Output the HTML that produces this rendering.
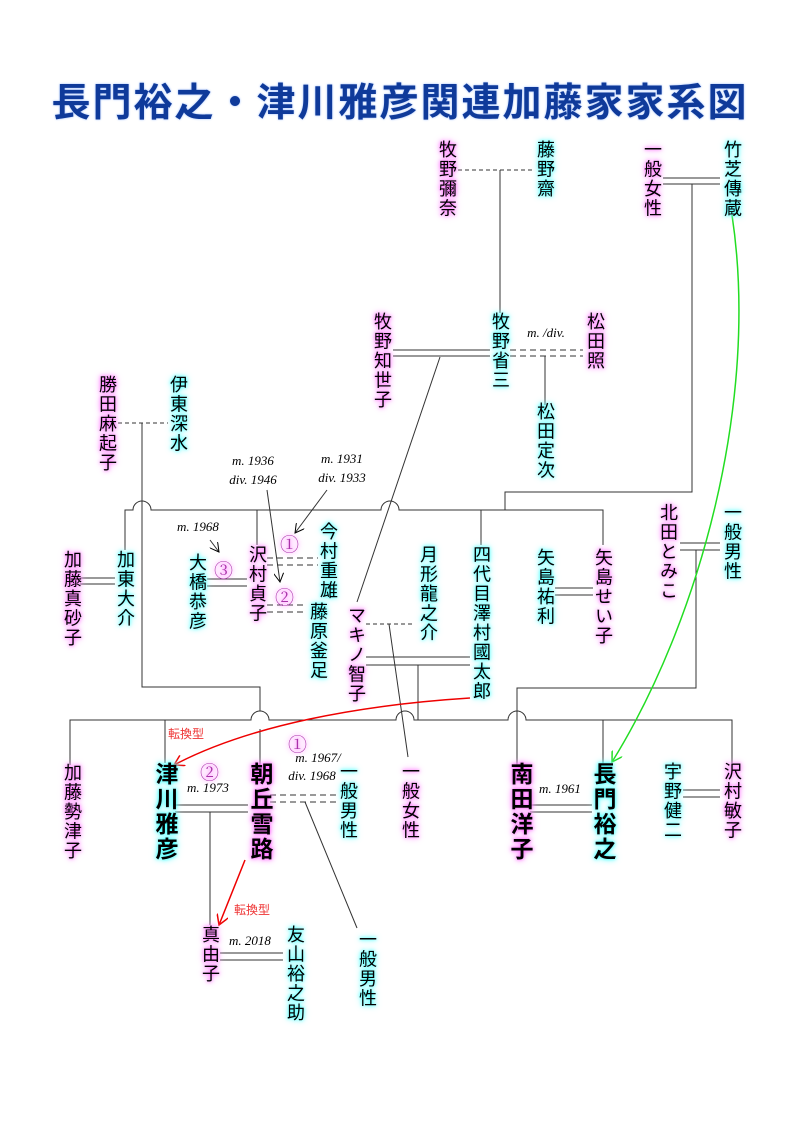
<!DOCTYPE html><html><head><meta charset="utf-8"><style>
body{margin:0;background:#fff;}
#c{position:relative;width:800px;height:1132px;overflow:hidden;font-family:"Liberation Sans","Noto Sans CJK JP",sans-serif;}
.n{position:absolute;writing-mode:vertical-rl;font-size:18px;line-height:18px;letter-spacing:1.5px;color:#000;white-space:nowrap;}
.f{text-shadow:0 0 3px #f6f,0 0 6px #f8f,0 0 9px #fbf;}
.m{text-shadow:0 0 3px #3ff,0 0 6px #6ff,0 0 9px #bff;}
.b{font-size:23px;line-height:23px;font-weight:bold;letter-spacing:2px;}
h1{position:absolute;left:0;top:72px;width:800px;margin:0;text-align:center;font-size:39px;font-weight:bold;color:#0f3a9a;letter-spacing:2px;text-shadow:0 0 2px #9bf;}
svg{position:absolute;left:0;top:0;}
.c{position:absolute;font-size:19px;color:#a3a;font-family:"Liberation Serif","Noto Serif CJK SC",serif;text-shadow:0 0 4px #f6f,0 0 7px #f9f;}
</style></head><body><div id="c">
<h1>長門裕之・津川雅彦関連加藤家家系図</h1>
<svg width="800" height="1132" font-family="Liberation Serif" font-style="italic" font-size="13">
<defs>
<marker id="ab" markerWidth="10" markerHeight="10" refX="9" refY="5" orient="auto" markerUnits="userSpaceOnUse"><path d="M0,0L9,5L0,10" fill="none" stroke="#000"/></marker>
<marker id="ar" markerWidth="12" markerHeight="12" refX="10" refY="6" orient="auto" markerUnits="userSpaceOnUse"><path d="M0,0L10,6L0,12" fill="none" stroke="#e00" stroke-width="1.5"/></marker>
<marker id="ag" markerWidth="12" markerHeight="12" refX="10" refY="6" orient="auto" markerUnits="userSpaceOnUse"><path d="M0,0L10,6L0,12" fill="none" stroke="#2d2" stroke-width="1.5"/></marker>
</defs>
<g stroke="#333" fill="none" stroke-width="1">
<path d="M458,170H533" stroke-dasharray="4,3"/>
<path d="M500,170V313"/>
<path d="M663,178H720M663,184H720"/>
<path d="M692,184V492H505V510"/>
<path d="M393,350H490M393,356H490"/>
<path d="M510,350H583M510,356H583" stroke-dasharray="6,4"/>
<path d="M545,356V405"/>
<path d="M440,357L357,602"/>
<path d="M118,423H168" stroke-dasharray="4,3"/>
<path d="M142,423V502"/>
<path d="M142,519V687H260V711M260,729V765"/>
<path d="M125,550V510H133a9,9 0 0 1 18,0H381a9,9 0 0 1 18,0H603V545"/>
<path d="M142,502V519"/>
<path d="M257,510V545M481,510V545"/>
<path d="M80,578H115M80,584H115"/>
<path d="M207,579H247M207,586H247"/>
<path d="M267,558H318M267,565H318M267,605H305M267,612H305" stroke-dasharray="6,4"/>
<path d="M366,624H415" stroke-dasharray="4,3"/>
<path d="M389,624L408,757"/>
<path d="M366,657H470M366,665H470"/>
<path d="M418,665V720"/>
<path d="M70,765V720H251a9,9 0 0 1 18,0H396a9,9 0 0 1 18,0H508a9,9 0 0 1 18,0H732V763"/>
<path d="M165,720V763M603,720V763"/>
<path d="M680,543H720M680,550H720"/>
<path d="M696,550V688H517V765"/>
<path d="M555,588H593M555,595H593"/>
<path d="M175,805H248M175,812H248"/>
<path d="M210,812V925"/>
<path d="M270,795H338M270,802H338" stroke-dasharray="6,4"/>
<path d="M305,802L357,928"/>
<path d="M683,790H720M683,797H720"/>
<path d="M530,805H592M530,812H592"/>
<path d="M220,953H283M220,960H283"/>
<path d="M267,490L280,582" marker-end="url(#ab)"/>
<path d="M327,490L295,533" marker-end="url(#ab)"/>
<path d="M210,540L219,552" marker-end="url(#ab)"/>
</g>
<path d="M470,698C360,705 250,725 174,765" stroke="#e00" stroke-width="1.5" fill="none" marker-end="url(#ar)"/>
<path d="M245,860L219,925" stroke="#e00" stroke-width="1.5" fill="none" marker-end="url(#ar)"/>
<path d="M732,215C760,400 700,620 612,762" stroke="#2d2" stroke-width="1.5" fill="none" marker-end="url(#ag)"/>
<g fill="#000">
<text x="546" y="337" text-anchor="middle">m. /div.</text>
<text x="253" y="465" text-anchor="middle">m. 1936</text>
<text x="253" y="484" text-anchor="middle">div. 1946</text>
<text x="342" y="463" text-anchor="middle">m. 1931</text>
<text x="342" y="482" text-anchor="middle">div. 1933</text>
<text x="198" y="531" text-anchor="middle">m. 1968</text>
<text x="208" y="792" text-anchor="middle">m. 1973</text>
<text x="318" y="762" text-anchor="middle">m. 1967/</text>
<text x="312" y="780" text-anchor="middle">div. 1968</text>
<text x="560" y="793" text-anchor="middle">m. 1961</text>
<text x="250" y="945" text-anchor="middle">m. 2018</text>
</g>
<g fill="#e33" font-style="normal" font-family="Liberation Sans,Noto Sans CJK JP,sans-serif" font-size="12">
<text x="168" y="738">転換型</text>
<text x="234" y="914">転換型</text>
</g>
</svg>
<div class="c" style="left:280px;top:530px">①</div>
<div class="c" style="left:275px;top:583px">②</div>
<div class="c" style="left:214px;top:556px">③</div>
<div class="c" style="left:288px;top:730px">①</div>
<div class="c" style="left:200px;top:758px">②</div>

<div class="n f" style="left:438px;top:140px">牧野彌奈</div>
<div class="n m" style="left:536px;top:140px">藤野齋</div>
<div class="n f" style="left:643px;top:140px">一般女性</div>
<div class="n m" style="left:723px;top:140px">竹芝傳蔵</div>
<div class="n f" style="left:373px;top:312px">牧野知世子</div>
<div class="n m" style="left:491px;top:312px">牧野省三</div>
<div class="n f" style="left:586px;top:312px">松田照</div>
<div class="n m" style="left:536px;top:402px">松田定次</div>
<div class="n f" style="left:98px;top:375px">勝田麻起子</div>
<div class="n m" style="left:169px;top:375px">伊東深水</div>
<div class="n m" style="left:319px;top:522px">今村重雄</div>
<div class="n m" style="left:188px;top:553px">大橋恭彦</div>
<div class="n f" style="left:248px;top:545px">沢村貞子</div>
<div class="n m" style="left:309px;top:602px">藤原釜足</div>
<div class="n f" style="left:63px;top:550px">加藤真砂子</div>
<div class="n m" style="left:116px;top:550px">加東大介</div>
<div class="n m" style="left:419px;top:545px">月形龍之介</div>
<div class="n f" style="left:347px;top:606px">マキノ智子</div>
<div class="n m" style="left:472px;top:545px">四代目澤村國太郎</div>
<div class="n m" style="left:536px;top:548px">矢島祐利</div>
<div class="n f" style="left:594px;top:548px">矢島せい子</div>
<div class="n f" style="left:659px;top:503px">北田とみこ</div>
<div class="n m" style="left:723px;top:503px">一般男性</div>
<div class="n f" style="left:63px;top:763px">加藤勢津子</div>
<div class="n m b" style="left:153px;top:762px">津川雅彦</div>
<div class="n f b" style="left:248px;top:762px">朝丘雪路</div>
<div class="n m" style="left:339px;top:762px">一般男性</div>
<div class="n f" style="left:401px;top:762px">一般女性</div>
<div class="n f b" style="left:508px;top:762px">南田洋子</div>
<div class="n m b" style="left:591px;top:762px">長門裕之</div>
<div class="n m" style="left:663px;top:762px">宇野健二</div>
<div class="n f" style="left:723px;top:762px">沢村敏子</div>
<div class="n f" style="left:201px;top:925px">真由子</div>
<div class="n m" style="left:286px;top:925px">友山裕之助</div>
<div class="n m" style="left:358px;top:930px">一般男性</div>
</div></body></html>
